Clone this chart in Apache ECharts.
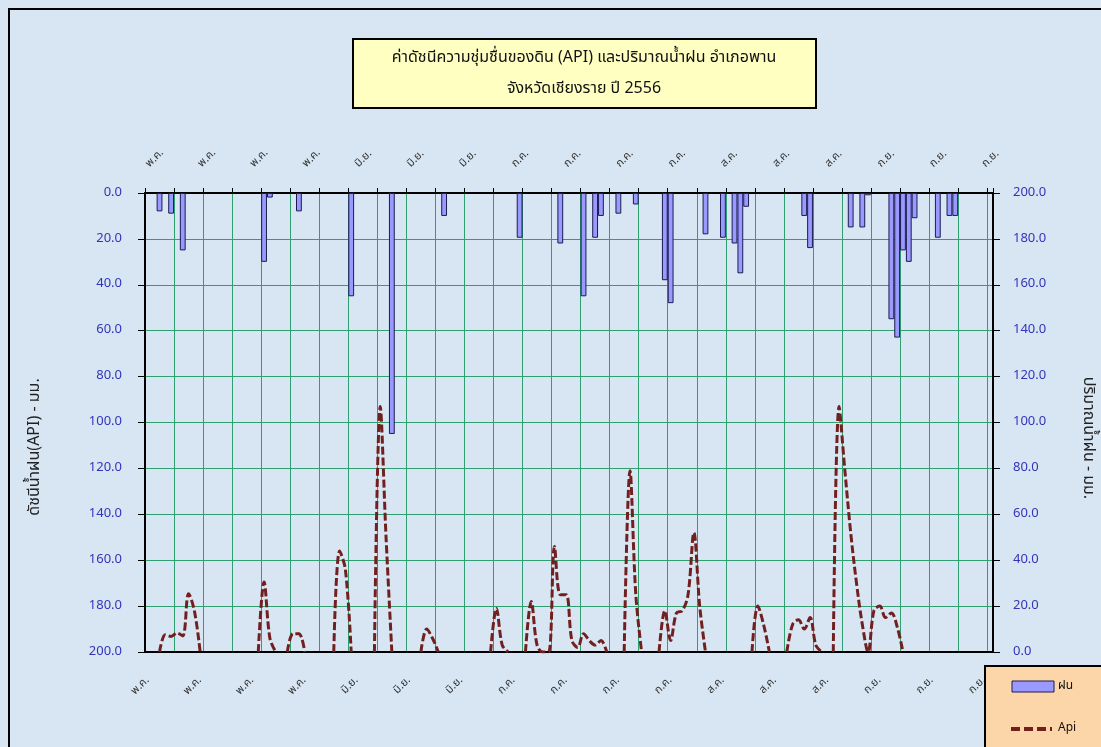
<!DOCTYPE html>
<html><head><meta charset="utf-8">
<script src="https://cdn.jsdelivr.net/npm/echarts@6/dist/echarts.min.js"></script>
<style>html,body{margin:0;padding:0;background:#d8e6f3}#c{width:1101px;height:747px}</style>
</head><body><div id="c"></div>
<script>
const FONT = 'Tahoma, "Noto Sans Thai", "Noto Sans", "DejaVu Sans", sans-serif';
const titleLines = ['ค่าดัชนีความชุ่มชื่นของดิน (API) และปริมาณน้ำฝน อำเภอพาน', 'จังหวัดเชียงราย ปี 2556'];
const leftAxisName = 'ดัชนีน้ำฝน(API) - มม.';
const rightAxisName = 'ปริมาณน้ำฝน - มม.';
const legendNames = ['ฝน', 'Api'];
const monthNums = [5, 6, 7, 8, 9];
const monthLengths = [31, 30, 31, 31, 23];
const xTickLabels = ['พ.ค.','พ.ค.','พ.ค.','พ.ค.','มิ.ย.','มิ.ย.','มิ.ย.','ก.ค.','ก.ค.','ก.ค.','ก.ค.','ส.ค.','ส.ค.','ส.ค.','ก.ย.','ก.ย.','ก.ย.'];
const rainDays   = [2, 4, 6, 20, 21, 26, 35, 42, 51, 64, 71, 75, 77, 78, 81, 84, 89, 90, 96, 99, 101, 102, 103, 113, 114, 121, 123, 124, 128, 129, 130, 131, 132, 136, 138, 139];
const rainValues = [8, 9, 25, 30, 2, 8, 45, 105, 10, 19.5, 22, 45, 19.5, 10, 9, 5, 38, 48, 18, 19.5, 22, 35, 6, 10, 24, 15, 15, 1, 55, 63, 25, 30, 11, 19.5, 10, 10];
const apiDays   = [2, 3, 4, 5, 6, 7, 8, 9,
                   19, 20, 21, 22,
                   24, 25, 26, 27,
                   32, 33, 34, 35,
                   39, 40, 41, 42,
                   47, 48, 49, 50,
                   59, 60, 61, 62,
                   65, 66, 67, 68,
                   69, 70, 71, 72, 73, 74, 75, 76, 77, 78, 79,
                   82, 83, 84, 85,
                   88, 89, 90, 91, 92, 93, 94, 95, 96,
                   104, 105, 106, 107,
                   110, 111, 112, 113, 114, 115, 116,
                   118, 119, 120, 121, 122, 123, 124, 125, 126, 127, 128, 129, 130];
const apiValues = [0, 7.5, 6.8, 8.3, 7, 25.4, 18, 0,
                   0, 30.5, 6, 0,
                   0, 8, 8, 0,
                   0, 44, 36, 0,
                   0, 107, 50, 0,
                   0, 10, 6, 0,
                   0, 19, 3, 0,
                   0, 22, 3, 0,
                   0, 46, 25, 25, 5, 2, 8, 5, 3, 5, 0,
                   0, 79, 25, 0,
                   0, 18, 5, 17, 18, 25, 52, 20, 0,
                   0, 20, 12, 0,
                   0, 12, 14, 10, 15, 3, 0,
                   0, 107, 79, 52, 30, 12, 0, 18, 20, 15, 17, 11, 0];

const categories = [];
monthNums.forEach((m, k) => { for (let d = 1; d <= monthLengths[k]; d++) categories.push(d + '/' + m + '/2556'); });
const N = categories.length;
const rainData = new Array(N).fill(null);
rainDays.forEach((d, i) => { rainData[d] = rainValues[i]; });
const apiData = new Array(N).fill(null);
apiDays.forEach((d, i) => { apiData[d] = apiValues[i]; });

const GRID = '#2f9f70';
const AXISBLUE = '#3434b8';
const BAR = '#9999ff', BAR_EDGE = '#1c1c50';
const API = '#72201f';
const xFmt = (v, idx) => xTickLabels[Math.round(idx / 9)] || '';

const chart = echarts.init(document.getElementById('c'), null, {renderer: 'canvas'});
chart.setOption({
  backgroundColor: '#d8e6f3',
  animation: false,
  textStyle: {fontFamily: FONT},
  grid: {left: 145, right: 108, top: 193, bottom: 95},
  xAxis: [
    {type: 'category', data: categories, position: 'bottom', boundaryGap: true,
     axisLine: {show: true, onZero: false, lineStyle: {color: '#000', width: 2}},
     axisTick: {show: false},
     axisLabel: {interval: 8, rotate: 45, margin: 27, fontSize: 11, color: '#333', fontFamily: FONT, formatter: xFmt},
     splitLine: {show: true, interval: 4, lineStyle: {color: GRID, width: 1}}},
    {type: 'category', data: categories, position: 'top', boundaryGap: true,
     axisLine: {show: true, onZero: false, lineStyle: {color: '#000', width: 2}},
     axisTick: {show: true, interval: 4, length: 5, lineStyle: {color: '#000'}},
     axisLabel: {interval: 8, rotate: -45, margin: 27, fontSize: 11, color: '#333', fontFamily: FONT, formatter: xFmt},
     splitLine: {show: false}}
  ],
  yAxis: [
    {type: 'value', inverse: true, min: 0, max: 200, interval: 20, position: 'left',
     axisLine: {show: true, onZero: false, lineStyle: {color: '#000', width: 2}},
     axisTick: {show: true, length: 7, lineStyle: {color: '#000'}},
     axisLabel: {margin: 23, fontSize: 13, color: AXISBLUE, fontFamily: FONT, formatter: v => v.toFixed(1)},
     splitLine: {show: true, lineStyle: {color: GRID, width: 1}}},
    {type: 'value', min: 0, max: 200, interval: 20, position: 'right',
     axisLine: {show: true, onZero: false, lineStyle: {color: '#000', width: 2}},
     axisTick: {show: true, length: 7, lineStyle: {color: '#000'}},
     axisLabel: {margin: 20, fontSize: 13, color: AXISBLUE, fontFamily: FONT, formatter: v => v.toFixed(1)},
     splitLine: {show: false}}
  ],
  series: [
    {name: legendNames[0], type: 'bar', xAxisIndex: 0, yAxisIndex: 0, data: rainData, barCategoryGap: '0%',
     itemStyle: {color: BAR, borderColor: BAR_EDGE, borderWidth: 1}},
    {name: legendNames[1], type: 'line', xAxisIndex: 0, yAxisIndex: 1, data: apiData, smooth: 0.35,
     symbol: 'none', connectNulls: false,
     lineStyle: {color: API, width: 3, type: [8, 3]}, itemStyle: {color: API}}
  ],
  graphic: [
    {type: 'rect', z: -1, shape: {x: 9, y: 9, width: 1200, height: 800}, style: {fill: 'none', stroke: '#000', lineWidth: 2}},
    {type: 'rect', z: 1, shape: {x: 353, y: 39, width: 463, height: 69}, style: {fill: '#ffffc2', stroke: '#000', lineWidth: 2}},
    {type: 'text', z: 2, x: 584, y: 74, style: {text: titleLines.join('\n'), align: 'center', verticalAlign: 'middle',
      lineHeight: 31, fontSize: 16, fontFamily: FONT, fill: '#111'}},
    {type: 'text', z: 2, x: 36, y: 447, rotation: Math.PI / 2, style: {text: leftAxisName, align: 'center', verticalAlign: 'middle',
      fontSize: 16, fontFamily: FONT, fill: '#222'}},
    {type: 'text', z: 2, x: 1087, y: 438, rotation: -Math.PI / 2, style: {text: rightAxisName, align: 'center', verticalAlign: 'middle',
      fontSize: 16, fontFamily: FONT, fill: '#222'}},
    {type: 'rect', z: 1, shape: {x: 985, y: 666, width: 140, height: 100}, style: {fill: '#fcd5a8', stroke: '#000', lineWidth: 2}},
    {type: 'rect', z: 2, shape: {x: 1012, y: 681, width: 42, height: 11}, style: {fill: BAR, stroke: BAR_EDGE, lineWidth: 1}},
    {type: 'text', z: 2, x: 1058, y: 687, style: {text: legendNames[0], align: 'left', verticalAlign: 'middle', fontSize: 12, fontFamily: FONT, fill: '#111'}},
    {type: 'line', z: 2, shape: {x1: 1011, y1: 729, x2: 1052, y2: 729}, style: {stroke: API, lineWidth: 4, lineDash: [9, 4]}},
    {type: 'text', z: 2, x: 1058, y: 729, style: {text: legendNames[1], align: 'left', verticalAlign: 'middle', fontSize: 12, fontFamily: FONT, fill: '#111'}}
  ]
});
</script></body></html>
